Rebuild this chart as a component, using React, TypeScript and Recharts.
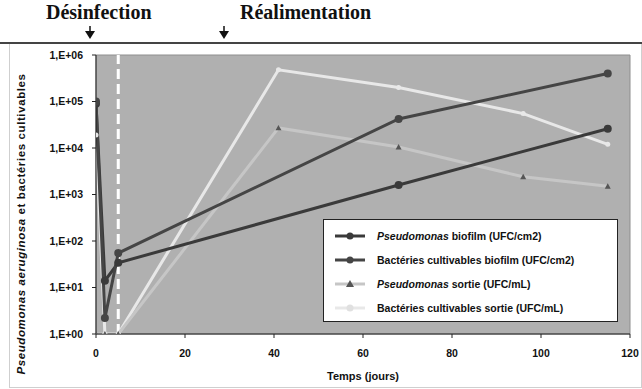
import {
    LineChart,
    Line,
    XAxis,
    YAxis,
    ReferenceArea,
    ReferenceLine,
} from "recharts";

// sampling days and values (log scale, 1 = detection limit)
const days = [0, 2, 5, 41, 68, 96, 115];
const pseudoBiofilm = [90000, 14, 34, null, 1600, null, 26000];
const cultBiofilm = [100000, 2.2, 55, null, 42000, null, 400000];
const pseudoSortie = [1, 1, 1, 27000, 10500, 2400, 1500];
const cultSortie = [19000, 1, 1, 480000, 200000, 55000, 12000];

const xTicks = [0, 20, 40, 60, 80, 100, 120];
const yTicks = [1, 10, 100, 1000, 10000, 100000, 1000000];

const data = days.map((d, i) => ({
    day: d,
    pseudoBiofilm: pseudoBiofilm[i],
    cultBiofilm: cultBiofilm[i],
    pseudoSortie: pseudoSortie[i],
    cultSortie: cultSortie[i],
}));

const FONT = "'Liberation Sans', Arial, sans-serif";
const DARK = "#3a3a3a";
const DARK2 = "#454545";
const LIGHT = "#c6c6c6";
const WHITE = "#e8e8e8";

const series = [
    { key: "pseudoBiofilm", color: DARK, italic: "Pseudomonas", rest: " biofilm (UFC/cm2)", marker: "circle", mcolor: DARK },
    { key: "cultBiofilm", color: DARK2, italic: "", rest: "Bactéries cultivables biofilm (UFC/cm2)", marker: "circle", mcolor: DARK2 },
    { key: "pseudoSortie", color: LIGHT, italic: "Pseudomonas", rest: " sortie (UFC/mL)", marker: "triangle", mcolor: "#555" },
    { key: "cultSortie", color: WHITE, italic: "", rest: "Bactéries cultivables sortie (UFC/mL)", marker: "circle", mcolor: "#e0e0e0" },
];

function tickLabel(v: number) {
    const e = Math.round(Math.log10(v));
    return "1,E+" + String(e).padStart(2, "0");
}

function makeDot(shape: string, color: string, r: number) {
    return (props: any) => {
        const { cx, cy, index } = props;
        if (cx == null || cy == null || isNaN(cy)) return <g key={index} />;
        if (shape === "triangle") {
            return (
                <polygon
                    key={index}
                    points={`${cx},${cy - r} ${cx - r},${cy + r * 0.8} ${cx + r},${cy + r * 0.8}`}
                    fill={color}
                />
            );
        }
        return <circle key={index} cx={cx} cy={cy} r={r} fill={color} />;
    };
}

function LegendBox() {
    return (
        <div
            style={{
                position: "absolute",
                left: 323,
                top: 219,
                width: 295,
                height: 103,
                background: "#fff",
                border: "1px solid #222",
                fontFamily: FONT,
                fontSize: 10.5,
                fontWeight: 700,
                color: "#111",
                paddingTop: 4,
                boxSizing: "border-box",
            }}
        >
            {series.map((s) => (
                <div
                    key={s.key}
                    style={{ display: "flex", alignItems: "center", height: 24 }}
                >
                    <svg width={44} height={12} style={{ marginLeft: 9 }}>
                        <line x1={2} y1={6} x2={32} y2={6} stroke={s.color} strokeWidth={3} />
                        {s.marker === "triangle" ? (
                            <polygon points="17,2 13,9 21,9" fill={s.mcolor} />
                        ) : (
                            <circle cx={17} cy={6} r={3.5} fill={s.mcolor} />
                        )}
                    </svg>
                    <span>
                        {s.italic && <i>{s.italic}</i>}
                        {s.rest}
                    </span>
                </div>
            ))}
        </div>
    );
}

function Arrow({ x }: { x: number }) {
    return (
        <svg
            width={12}
            height={14}
            style={{ position: "absolute", left: x - 6, top: 26 }}
        >
            <line x1={6} y1={0} x2={6} y2={6} stroke="#111" strokeWidth={1.5} />
            <polygon points="1,5 11,5 6,13" fill="#111" />
        </svg>
    );
}

const titleStyle = {
    position: "absolute" as const,
    top: 1,
    fontFamily: "'Liberation Serif', 'Times New Roman', serif",
    fontWeight: 700,
    fontSize: 20,
    color: "#111",
};

export default function App() {
    return (
        <div
            style={{
                position: "absolute",
                left: 0,
                top: 0,
                width: 642,
                height: 389,
                background: "#fff",
                overflow: "hidden",
            }}
        >
            <div style={{ ...titleStyle, left: 46 }}>Désinfection</div>
            <div style={{ ...titleStyle, left: 240 }}>Réalimentation</div>
            <Arrow x={90} />
            <Arrow x={224} />
            <div
                style={{
                    position: "absolute",
                    left: 0,
                    top: 42,
                    width: 642,
                    height: 2,
                    background: "#444",
                }}
            />
            <div
                style={{
                    position: "absolute",
                    left: 9,
                    top: 44,
                    width: 631,
                    height: 343,
                    border: "1px solid #cfcfcf",
                    borderTop: "none",
                }}
            />
            <div
                style={{
                    position: "absolute",
                    left: 0,
                    top: 0,
                    width: 0,
                    height: 0,
                    transform: "translate(21px, 224px)",
                }}
            >
                <div
                    style={{
                        position: "absolute",
                        left: 0,
                        top: 0,
                        transform: "translate(-50%, -50%) rotate(-90deg)",
                        whiteSpace: "nowrap",
                        fontFamily: FONT,
                        fontWeight: 700,
                        fontSize: 11.5,
                        letterSpacing: 0.6,
                        color: "#111",
                    }}
                >
                    <i>Pseudomonas aeruginosa</i> et bactéries cultivables
                </div>
            </div>
            <div style={{ position: "absolute", left: 0, top: 0 }}>
                <LineChart
                    width={642}
                    height={389}
                    data={data}
                    margin={{ top: 55, right: 12, bottom: 25, left: 0 }}
                >
                    <ReferenceArea
                        x1={0}
                        x2={120}
                        y1={1}
                        y2={1000000}
                        fill="#b0b0b0"
                        fillOpacity={1}
                        stroke="#8e8e8e"
                        ifOverflow="visible"
                    />
                    <XAxis
                        dataKey="day"
                        type="number"
                        domain={[0, 120]}
                        ticks={xTicks}
                        allowDataOverflow
                        height={30}
                        stroke="#222"
                        tickSize={4}
                        tickMargin={12}
                        tick={{ fill: "#111", fontSize: 10.5, fontWeight: 700, fontFamily: FONT }}
                        label={{
                            value: "Temps (jours)",
                            position: "insideBottom",
                            offset: -16,
                            fill: "#111",
                            fontSize: 11,
                            fontWeight: 700,
                            fontFamily: FONT,
                        }}
                    />
                    <YAxis
                        type="number"
                        scale="log"
                        domain={[1, 1000000]}
                        ticks={yTicks}
                        allowDataOverflow
                        width={96}
                        stroke="#222"
                        tickSize={4}
                        tickMargin={9}
                        tickFormatter={tickLabel}
                        tick={{ fill: "#111", fontSize: 10.5, fontWeight: 700, fontFamily: FONT }}
                    />
                    <ReferenceLine
                        x={5}
                        stroke="#ffffff"
                        strokeWidth={3}
                        strokeDasharray="10 5"
                    />
                    <Line
                        dataKey="cultSortie"
                        stroke={WHITE}
                        strokeWidth={3}
                        dot={makeDot("circle", WHITE, 2.5)}
                        isAnimationActive={false}
                        connectNulls
                    />
                    <Line
                        dataKey="pseudoSortie"
                        stroke={LIGHT}
                        strokeWidth={3}
                        dot={makeDot("triangle", "#555", 3)}
                        isAnimationActive={false}
                        connectNulls
                    />
                    <Line
                        dataKey="pseudoBiofilm"
                        stroke={DARK}
                        strokeWidth={3}
                        dot={makeDot("circle", DARK, 4)}
                        isAnimationActive={false}
                        connectNulls
                    />
                    <Line
                        dataKey="cultBiofilm"
                        stroke={DARK2}
                        strokeWidth={3}
                        dot={makeDot("circle", DARK2, 4)}
                        isAnimationActive={false}
                        connectNulls
                    />
                </LineChart>
            </div>
            <LegendBox />
        </div>
    );
}
